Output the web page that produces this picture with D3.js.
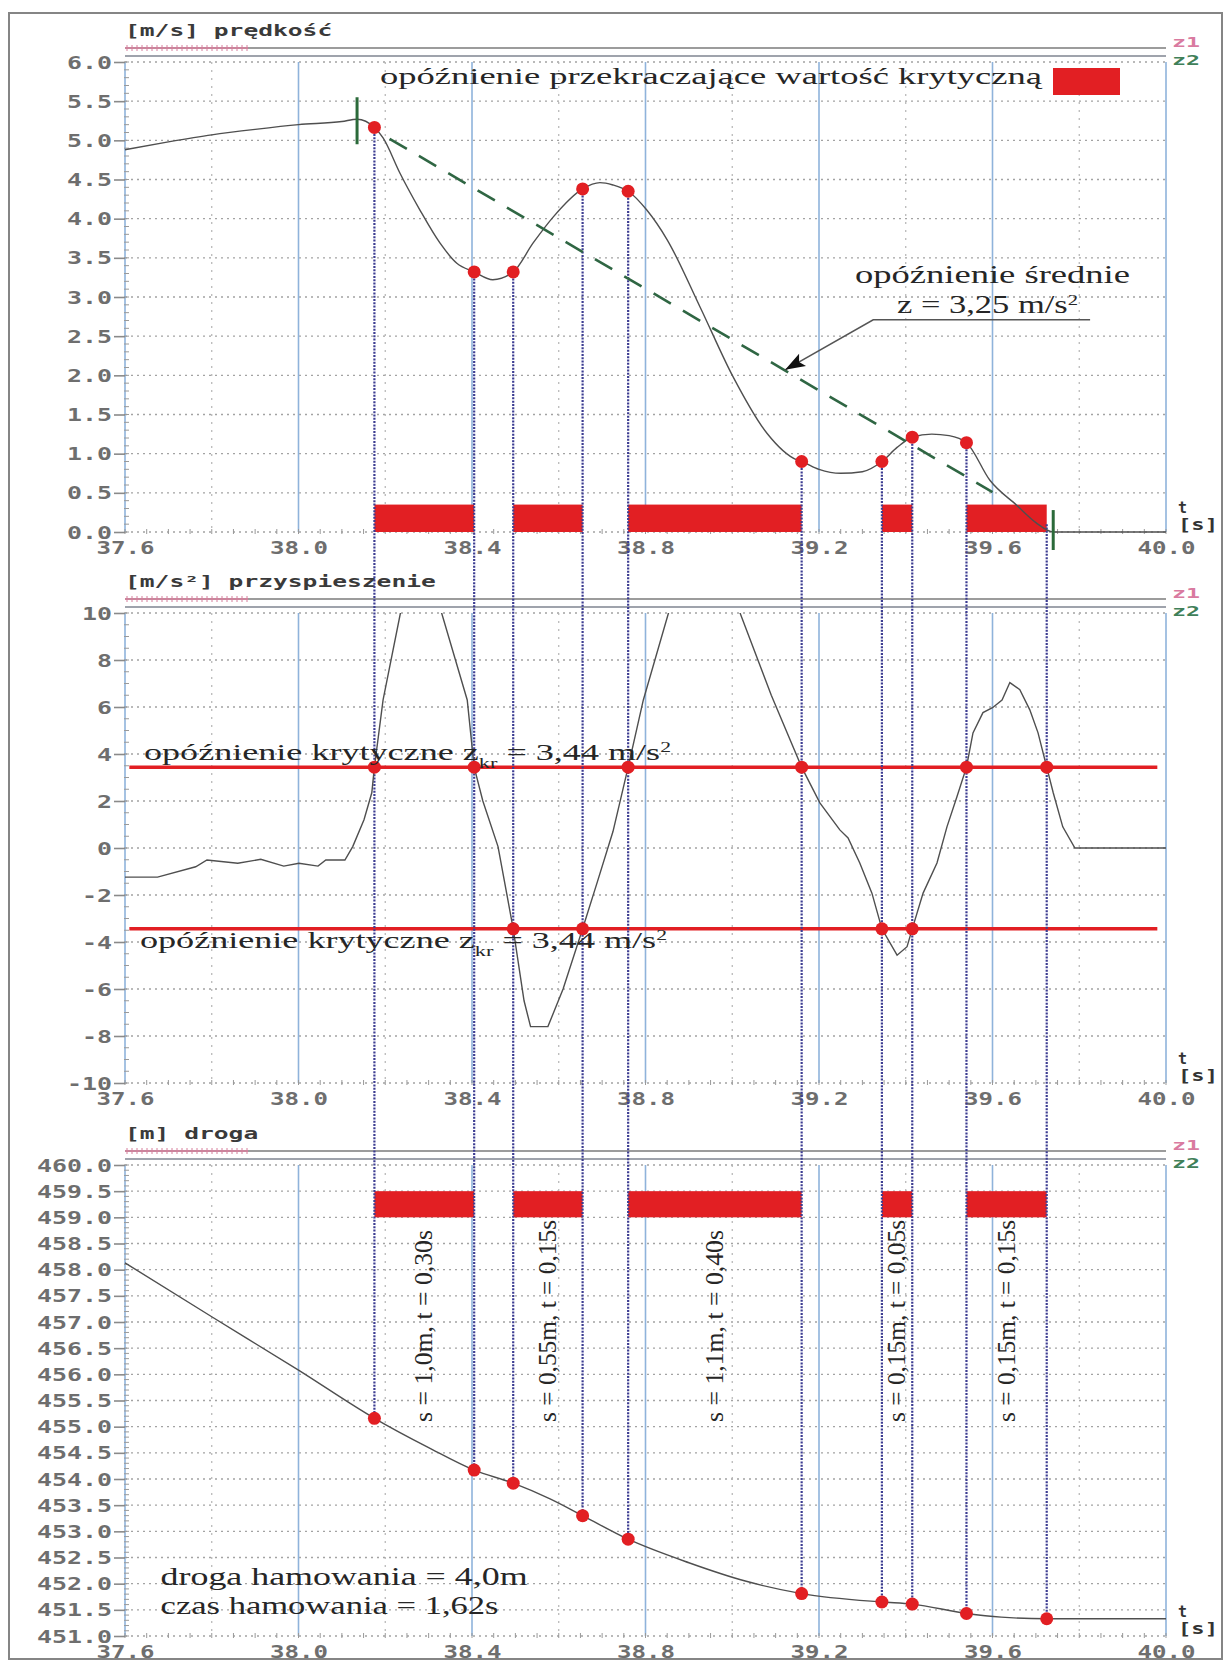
<!DOCTYPE html>
<html>
<head>
<meta charset="utf-8">
<script src="https://cdn.jsdelivr.net/npm/d3@7"></script>
<style>
body { margin: 0; background: #fff; }
svg { display: block; }
.mono { font-family: "DejaVu Sans Mono", monospace; font-weight: bold; }
.serif { font-family: "Liberation Serif", "DejaVu Serif", serif; fill: #262626; }
</style>
</head>
<body>
<script>
const w = 1226;
const h = 1665;

// time axis
const tickX = [37.6, 38.0, 38.4, 38.8, 39.2, 39.6, 40.0];
const minorX = [37.8, 38.2, 38.6, 39.0, 39.4, 39.8];

const velTicks = [0.0, 0.5, 1.0, 1.5, 2.0, 2.5, 3.0, 3.5, 4.0, 4.5, 5.0, 5.5, 6.0];
const accTicks = [-10, -8, -6, -4, -2, 0, 2, 4, 6, 8, 10];
const distTicks = [451.0, 451.5, 452.0, 452.5, 453.0, 453.5, 454.0, 454.5, 455.0, 455.5,
	456.0, 456.5, 457.0, 457.5, 458.0, 458.5, 459.0, 459.5, 460.0];

// velocity curve
const velT = [37.6, 37.7, 37.8, 37.9, 38.0, 38.1, 38.135, 38.175, 38.195, 38.234, 38.28, 38.326, 38.365,
	38.405, 38.448, 38.495, 38.541, 38.587, 38.655, 38.695, 38.725, 38.76, 38.803, 38.85, 38.926, 39.002,
	39.08, 39.149, 39.16, 39.2, 39.25, 39.3, 39.345, 39.38, 39.415, 39.46, 39.5, 39.54, 39.594, 39.656,
	39.7, 39.74, 40.0];
const velV = [4.88, 4.98, 5.07, 5.14, 5.2, 5.24, 5.27, 5.165, 5.03, 4.58, 4.11, 3.69, 3.43,
	3.32, 3.22, 3.32, 3.69, 4.02, 4.38, 4.46, 4.43, 4.35, 4.11, 3.73, 2.87, 1.98,
	1.26, 0.92, 0.9, 0.8, 0.75, 0.77, 0.9, 1.08, 1.21, 1.25, 1.23, 1.14, 0.66, 0.34,
	0.12, 0.0, 0.0];

// acceleration (deceleration positive) curve
const accT = [37.6, 37.675, 37.763, 37.789, 37.86, 37.913, 37.966, 38.001, 38.045, 38.063, 38.107, 38.125,
	38.151, 38.169, 38.175, 38.195, 38.235, 38.28, 38.33, 38.389, 38.405, 38.425, 38.46, 38.495, 38.52,
	38.535, 38.575, 38.61, 38.655, 38.689, 38.725, 38.76, 38.795, 38.853, 38.94, 39.018, 39.09, 39.16,
	39.202, 39.248, 39.267, 39.294, 39.322, 39.345, 39.38, 39.403, 39.415, 39.44, 39.472, 39.495, 39.518,
	39.54, 39.555, 39.578, 39.6, 39.622, 39.64, 39.663, 39.686, 39.705, 39.725, 39.74, 39.762, 39.79, 40.0];
const accV = [-1.24, -1.24, -0.8, -0.51, -0.65, -0.48, -0.77, -0.65, -0.77, -0.51, -0.51, 0.06,
	1.2, 2.35, 3.44, 6.3, 10.0, 13.0, 10.0, 6.3, 3.44, 2.0, 0.06, -3.44, -6.5,
	-7.6, -7.6, -6.0, -3.44, -1.44, 0.7, 3.44, 6.3, 10.0, 14.0, 10.0, 6.5, 3.44,
	1.92, 0.77, 0.43, -0.64, -1.92, -3.44, -4.56, -4.2, -3.44, -1.92, -0.64, 0.9, 2.18,
	3.44, 4.9, 5.76, 5.97, 6.3, 7.04, 6.74, 5.88, 4.9, 3.44, 2.35, 0.9, 0.0, 0.0];

// distance curve
const distT = [37.6, 37.8, 38.0, 38.175, 38.3, 38.405, 38.495, 38.58, 38.655, 38.76, 38.9, 39.03,
	39.16, 39.345, 39.415, 39.54, 39.62, 39.725, 40.0];
const distV = [458.13, 457.1, 456.08, 455.16, 454.6, 454.17, 453.92, 453.62, 453.3, 452.85, 452.4, 452.05,
	451.81, 451.65, 451.61, 451.43, 451.36, 451.33, 451.33];

// marked instants
const eventT = [38.175, 38.405, 38.495, 38.655, 38.76, 39.16, 39.345, 39.415, 39.54, 39.725];
const eventV = [5.165, 3.32, 3.32, 4.38, 4.35, 0.9, 0.9, 1.21, 1.14, 0.1];
const eventVelDot = [1, 1, 1, 1, 1, 1, 1, 1, 1, 0];
const eventA = [3.44, 3.44, -3.44, -3.44, 3.44, 3.44, -3.44, -3.44, 3.44, 3.44];
const eventS = [455.16, 454.17, 453.92, 453.3, 452.85, 451.81, 451.65, 451.61, 451.43, 451.33];

// intervals with deceleration above critical
const critStart = [38.175, 38.495, 38.76, 39.345, 39.54];
const critEnd = [38.405, 38.655, 39.16, 39.415, 39.725];
const critLabels = ['s = 1,0m, t = 0,30s', 's = 0,55m, t = 0,15s', 's = 1,1m, t = 0,40s',
	's = 0,15m, t = 0,05s', 's = 0,15m, t = 0,15s'];

const zKr = 3.44;
const avgT = [38.21, 39.6];
const avgV = [5.02, 0.51];
const startMarkT = 38.135;
const stopMarkT = 39.74;

const red = '#e21f23';

const x = d3.scaleLinear().domain([37.6, 40.0]).range([125, 1166]);

const svg = d3.select('body').append('svg').attr('width', w).attr('height', h);

svg.append('rect').attr('x', 9).attr('y', 13).attr('width', 1213).attr('height', 1646)
	.attr('fill', 'none').attr('stroke', '#858585').attr('stroke-width', 2);

const panels = [
	{ title: '[m/s] prędkość', domain: [0, 6], top: 62, bottom: 532, ticks: velTicks, fmt: d3.format('.1f'), minor: 0.1 },
	{ title: '[m/s²] przyspieszenie', domain: [-10, 10], top: 613, bottom: 1083, ticks: accTicks, fmt: function(d) { return String(d); }, minor: 0.5 },
	{ title: '[m] droga', domain: [451, 460], top: 1165, bottom: 1636, ticks: distTicks, fmt: d3.format('.1f'), minor: 0.1 }
];

function drawPanel(p) {
	const y = d3.scaleLinear().domain(p.domain).range([p.bottom, p.top]);
	const g = svg.append('g');

	// dotted horizontal grid
	g.selectAll('.hgrid').data(p.ticks).join('line')
		.attr('x1', x(37.6)).attr('x2', x(40.0))
		.attr('y1', function(d) { return y(d); }).attr('y2', function(d) { return y(d); })
		.attr('stroke', '#a3a3a3').attr('stroke-width', 1.3).attr('stroke-dasharray', '2,4');

	// dotted minor verticals
	g.selectAll('.vminor').data(minorX).join('line')
		.attr('x1', function(d) { return x(d); }).attr('x2', function(d) { return x(d); })
		.attr('y1', p.top).attr('y2', p.bottom)
		.attr('stroke', '#b4b4b4').attr('stroke-width', 1.2).attr('stroke-dasharray', '2,6');

	// solid blue major verticals
	g.selectAll('.vmajor').data(tickX).join('line')
		.attr('x1', function(d) { return x(d); }).attr('x2', function(d) { return x(d); })
		.attr('y1', p.top).attr('y2', p.bottom)
		.attr('stroke', '#8fb3db').attr('stroke-width', 1.6);

	// small ticks along the time axis
	const tSmall = d3.range(37.6, 40.001, 0.05);
	g.selectAll('.xsmall').data(tSmall).join('line')
		.attr('x1', function(d) { return x(d); }).attr('x2', function(d) { return x(d); })
		.attr('y1', p.bottom - 3).attr('y2', p.bottom + 2)
		.attr('stroke', '#999').attr('stroke-width', 1);

	// small ticks along the value axis
	const ySmall = d3.range(p.domain[0], p.domain[1] + 1e-6, p.minor);
	g.selectAll('.ysmall').data(ySmall).join('line')
		.attr('x1', x(37.6) - 1).attr('x2', x(37.6) + 4)
		.attr('y1', function(d) { return y(d); }).attr('y2', function(d) { return y(d); })
		.attr('stroke', '#9a9a9a').attr('stroke-width', 1);

	// header: z1 / z2 lines
	g.append('line').attr('x1', x(37.6)).attr('x2', x(40.0)).attr('y1', p.top - 14).attr('y2', p.top - 14)
		.attr('stroke', '#9c9c9c').attr('stroke-width', 2);
	g.append('line').attr('x1', x(37.6)).attr('x2', x(40.0)).attr('y1', p.top - 6).attr('y2', p.top - 6)
		.attr('stroke', '#7f8490').attr('stroke-width', 1.6);
	g.append('line').attr('x1', x(37.6)).attr('x2', 248).attr('y1', p.top - 14).attr('y2', p.top - 14)
		.attr('stroke', '#d77f9c').attr('stroke-width', 1.6);
	g.selectAll('.cross').data(d3.range(127, 248, 5)).join('line')
		.attr('x1', function(d) { return d; }).attr('x2', function(d) { return d; })
		.attr('y1', p.top - 17).attr('y2', p.top - 11)
		.attr('stroke', '#d77f9c').attr('stroke-width', 1);

	g.append('text').attr('class', 'mono').attr('x', 1172).attr('y', p.top - 15)
		.attr('font-size', 14).attr('fill', '#d97aa0').attr('textLength', 28).attr('lengthAdjust', 'spacingAndGlyphs')
		.text('z1');
	g.append('text').attr('class', 'mono').attr('x', 1172).attr('y', p.top + 3)
		.attr('font-size', 14).attr('fill', '#3f8059').attr('textLength', 28).attr('lengthAdjust', 'spacingAndGlyphs')
		.text('z2');

	// title
	g.append('text').attr('class', 'mono').attr('x', x(37.6)).attr('y', p.top - 26)
		.attr('font-size', 15).attr('fill', '#3a3a3a')
		.attr('textLength', p.title.length * 14.8).attr('lengthAdjust', 'spacingAndGlyphs')
		.text(p.title);

	// value axis
	const yAxis = d3.axisLeft(y).tickValues(p.ticks).tickSize(11).tickPadding(2).tickFormat(p.fmt);
	const ya = g.append('g').attr('transform', 'translate(' + x(37.6) + ',0)').call(yAxis);
	ya.select('.domain').remove();
	ya.selectAll('.tick line').attr('stroke', '#8a8a8a').attr('stroke-width', 1.6);
	ya.selectAll('.tick text').attr('class', 'mono').attr('fill', '#6e6e6e').attr('font-size', 17)
		.attr('dy', '0.36em')
		.attr('textLength', function(d) { return p.fmt(d).length * 15; }).attr('lengthAdjust', 'spacingAndGlyphs');

	// time axis labels
	const xAxis = d3.axisBottom(x).tickValues(tickX).tickSize(0).tickFormat(d3.format('.1f'));
	const xa = g.append('g').attr('transform', 'translate(0,' + p.bottom + ')').call(xAxis);
	xa.select('.domain').remove();
	xa.selectAll('.tick text').attr('class', 'mono').attr('fill', '#6e6e6e').attr('font-size', 17)
		.attr('y', 22).attr('dy', 0)
		.attr('textLength', 58).attr('lengthAdjust', 'spacingAndGlyphs');

	// t [s]
	g.append('text').attr('class', 'mono').attr('x', 1178).attr('y', p.bottom - 19)
		.attr('font-size', 15).attr('fill', '#333').text('t');
	g.append('text').attr('class', 'mono').attr('x', 1178).attr('y', p.bottom - 2)
		.attr('font-size', 15).attr('fill', '#333')
		.attr('textLength', 40).attr('lengthAdjust', 'spacingAndGlyphs').text('[s]');

	return y;
}

const yv = drawPanel(panels[0]);
const ya = drawPanel(panels[1]);
const ys = drawPanel(panels[2]);

svg.append('clipPath').attr('id', 'clipA').append('rect')
	.attr('x', x(37.6)).attr('y', ya(10)).attr('width', x(40.0) - x(37.6)).attr('height', ya(-10) - ya(10));

function serifText(parts, px, py, len, size) {
	const t = svg.append('text').attr('class', 'serif').attr('x', px).attr('y', py)
		.attr('font-size', size).attr('textLength', len).attr('lengthAdjust', 'spacingAndGlyphs');
	parts.forEach(function(p) {
		const s = t.append('tspan').text(p[0]);
		if (p[1] === 'sub') s.attr('font-size', size * 0.62).attr('baseline-shift', 'sub');
		if (p[1] === 'sup') s.attr('font-size', size * 0.6).attr('baseline-shift', 'super');
	});
	return t;
}

// critical intervals (red bars) in velocity and distance panels
const critIdx = d3.range(critStart.length);
svg.selectAll('.barV').data(critIdx).join('rect')
	.attr('x', function(i) { return x(critStart[i]); })
	.attr('width', function(i) { return x(critEnd[i]) - x(critStart[i]); })
	.attr('y', yv(0.35)).attr('height', yv(0) - yv(0.35))
	.attr('fill', red);
svg.selectAll('.barS').data(critIdx).join('rect')
	.attr('x', function(i) { return x(critStart[i]); })
	.attr('width', function(i) { return x(critEnd[i]) - x(critStart[i]); })
	.attr('y', ys(459.5)).attr('height', ys(459.0) - ys(459.5))
	.attr('fill', red);

// critical deceleration lines
svg.selectAll('.crit').data([zKr, -zKr]).join('line')
	.attr('x1', x(37.61)).attr('x2', x(39.98))
	.attr('y1', function(d) { return ya(d); }).attr('y2', function(d) { return ya(d); })
	.attr('stroke', red).attr('stroke-width', 3.5);

// vertical dotted lines through all three panels
const evIdx = d3.range(eventT.length);
svg.selectAll('.evline').data(evIdx).join('line')
	.attr('x1', function(i) { return x(eventT[i]); }).attr('x2', function(i) { return x(eventT[i]); })
	.attr('y1', function(i) { return yv(eventV[i]); }).attr('y2', function(i) { return ys(eventS[i]); })
	.attr('stroke', '#3d3d92').attr('stroke-width', 2.2).attr('stroke-dasharray', '2,1.3');

// curves
const lineV = d3.line().x(function(d, i) { return x(velT[i]); }).y(function(d) { return yv(d); }).curve(d3.curveMonotoneX);
svg.append('path').attr('d', lineV(velV)).attr('fill', 'none').attr('stroke', '#4f4f4f').attr('stroke-width', 1.4);

const lineA = d3.line().x(function(d, i) { return x(accT[i]); }).y(function(d) { return ya(d); });
svg.append('path').attr('d', lineA(accV)).attr('clip-path', 'url(#clipA)')
	.attr('fill', 'none').attr('stroke', '#4f4f4f').attr('stroke-width', 1.4);

const lineS = d3.line().x(function(d, i) { return x(distT[i]); }).y(function(d) { return ys(d); }).curve(d3.curveMonotoneX);
svg.append('path').attr('d', lineS(distV)).attr('fill', 'none').attr('stroke', '#4f4f4f').attr('stroke-width', 1.4);

// average deceleration (dashed) and start/stop marks
svg.append('line')
	.attr('x1', x(avgT[0])).attr('y1', yv(avgV[0])).attr('x2', x(avgT[1])).attr('y2', yv(avgV[1]))
	.attr('stroke', '#2f6643').attr('stroke-width', 2.6).attr('stroke-dasharray', '20,14');
svg.append('line').attr('x1', x(startMarkT)).attr('x2', x(startMarkT)).attr('y1', yv(5.55)).attr('y2', yv(4.95))
	.attr('stroke', '#2b6a3a').attr('stroke-width', 3);
svg.append('line').attr('x1', x(stopMarkT)).attr('x2', x(stopMarkT)).attr('y1', yv(0.28)).attr('y2', yv(-0.23))
	.attr('stroke', '#2b6a3a').attr('stroke-width', 3);

// dots
svg.selectAll('.dotV').data(evIdx.filter(function(i) { return eventVelDot[i]; })).join('circle')
	.attr('cx', function(i) { return x(eventT[i]); }).attr('cy', function(i) { return yv(eventV[i]); })
	.attr('r', 6.5).attr('fill', red);
svg.selectAll('.dotA').data(evIdx).join('circle')
	.attr('cx', function(i) { return x(eventT[i]); }).attr('cy', function(i) { return ya(eventA[i]); })
	.attr('r', 6.5).attr('fill', red);
svg.selectAll('.dotS').data(evIdx).join('circle')
	.attr('cx', function(i) { return x(eventT[i]); }).attr('cy', function(i) { return ys(eventS[i]); })
	.attr('r', 6.5).attr('fill', red);

// legend of panel 1
serifText([['opóźnienie przekraczające wartość krytyczną']], 380, 84, 662, 24);
svg.append('rect').attr('x', 1053).attr('y', 68).attr('width', 67).attr('height', 27).attr('fill', red);

// mean deceleration note with arrow
serifText([['opóźnienie średnie']], x(39.283), yv(3.18), 275, 25);
serifText([['z = 3,25 m/s'], ['2', 'sup']], x(39.38), yv(2.8), 181, 25);
const ax0 = x(39.825), ay0 = yv(2.71), ax1 = x(39.325), tipX = x(39.122), tipY = yv(2.07);
svg.append('path').attr('d', 'M' + ax0 + ',' + ay0 + 'L' + ax1 + ',' + ay0 + 'L' + tipX + ',' + tipY)
	.attr('fill', 'none').attr('stroke', '#555').attr('stroke-width', 1.6);
const ang = Math.atan2(tipY - ay0, tipX - ax1);
const hl = 20, hw = 7;
const bx = tipX - hl * Math.cos(ang), by = tipY - hl * Math.sin(ang);
svg.append('path')
	.attr('d', 'M' + tipX + ',' + tipY +
		'L' + (bx + hw * Math.sin(ang)) + ',' + (by - hw * Math.cos(ang)) +
		'L' + (bx + 4 * Math.cos(ang)) + ',' + (by + 4 * Math.sin(ang)) +
		'L' + (bx - hw * Math.sin(ang)) + ',' + (by + hw * Math.cos(ang)) + 'Z')
	.attr('fill', '#111');

// critical deceleration labels
serifText([['opóźnienie krytyczne z'], ['kr', 'sub'], [' = 3,44 m/s'], ['2', 'sup']], 144, ya(3.44) - 7, 527, 24);
serifText([['opóźnienie krytyczne z'], ['kr', 'sub'], [' = 3,44 m/s'], ['2', 'sup']], 140, ya(-3.44) + 19, 527, 24);

// interval notes in distance panel
svg.selectAll('.seg').data(critIdx).join('text')
	.attr('class', 'serif').attr('font-size', 26)
	.attr('transform', function(i) {
		return 'translate(' + ((x(critStart[i]) + x(critEnd[i])) / 2 + 8) + ',' + ys(455.09) + ') rotate(-90)';
	})
	.attr('textLength', function(i) { return critLabels[i].length * 10.1; })
	.attr('lengthAdjust', 'spacingAndGlyphs')
	.text(function(i) { return critLabels[i]; });

serifText([['droga hamowania = 4,0m']], x(37.682), ys(451.97), 367, 25);
serifText([['czas hamowania = 1,62s']], x(37.682), ys(451.42), 338, 25);
</script>
</body>
</html>
